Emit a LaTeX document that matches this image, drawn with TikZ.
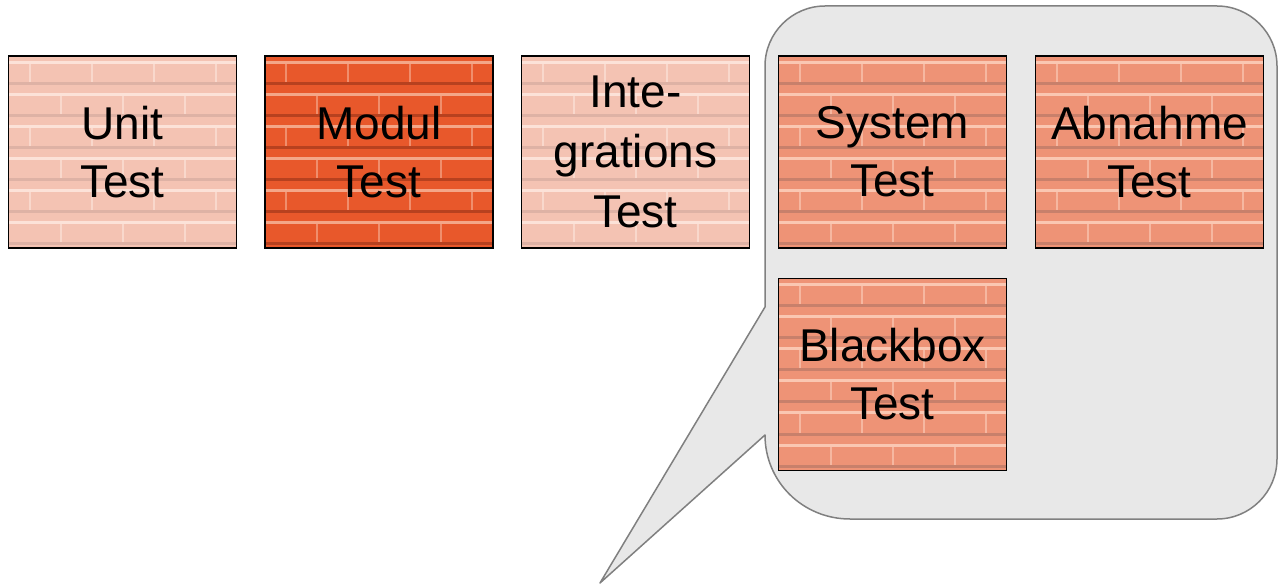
\documentclass[tikz,border=0pt]{standalone}
\usepackage{fontspec}
\setmainfont{Liberation Sans}
\usetikzlibrary{calc}
\definecolor{paleBase}{HTML}{F4C3B3}
\definecolor{paleLight}{HTML}{FCE2D8}
\definecolor{paleDark}{HTML}{D3A99E}
\definecolor{redBase}{HTML}{E8582B}
\definecolor{redLight}{HTML}{F4A688}
\definecolor{redDark}{HTML}{9E3519}
\definecolor{salBase}{HTML}{EE9376}
\definecolor{salLight}{HTML}{FAC7B2}
\definecolor{salDark}{HTML}{B47766}
\definecolor{calloutFill}{HTML}{E8E8E8}
\definecolor{calloutLine}{HTML}{808080}
\newcommand\brickfill[2]{%
  \coordinate (nw) at (path picture bounding box.north west);
  \foreach \k in {0,...,5} {
    \fill[#1] ($(nw)+(0,5+32*\k)$) rectangle ++(240,3);
    \fill[#2, opacity=.65] ($(nw)+(0,26+32*\k)$) rectangle ++(240,3);
    \pgfmathsetmacro\off{mod(\k,2)*31}
    \foreach \j in {0,...,4}
      \fill[#1, opacity=.7] ($(nw)+(\off+20+62*\j,8+32*\k)$) rectangle ++(2,18);
  }
}
\tikzset{
  x=1pt, y=-1pt,
  testbox/.style n args={3}{draw=black, line width=1.2pt, fill=#1,
    minimum width=228pt, minimum height=192pt, inner sep=0pt,
    align=center, font=\fontsize{46}{58}\selectfont,
    path picture={\brickfill{#2}{#3}}},
  pale/.style={testbox={paleBase}{paleLight}{paleDark}},
  redb/.style={testbox={redBase}{redLight}{redDark}},
  salb/.style={testbox={salBase}{salLight}{salDark}},
  callout/.style={draw=calloutLine, fill=calloutFill, line width=1.5pt, line join=round}
}
\begin{document}
\begin{tikzpicture}
\useasboundingbox (0,0) rectangle (1278,585);
\coordinate (tip) at (600,583);
\draw[callout] (tip) -- (765,307) -- (765,66)
  .. controls (765,33) and (792,6) .. (825,6)
  -- (1217,6) .. controls (1250,6) and (1277,33) .. (1277,66)
  -- (1277,459) .. controls (1277,492) and (1250,519) .. (1217,519)
  -- (850,519) .. controls (803,519) and (765,482) .. (765,435) -- cycle;
\node[pale] (unit) at (122.5,152) {Unit\\Test};
\node[redb] (modul) at (379,152) {Modul\\Test};
\node[pale, font=\fontsize{46}{60}\selectfont] (integ) at (635.5,152) {Inte-\\grations\\Test};
\node[salb] (system) at (892.5,152) {System\\Test};
\node[salb] (abnahme) at (1149.5,152) {Abnahme\\Test};
\node[salb] (blackbox) at (892.5,374.5) {Blackbox\\Test};
\end{tikzpicture}
\end{document}
